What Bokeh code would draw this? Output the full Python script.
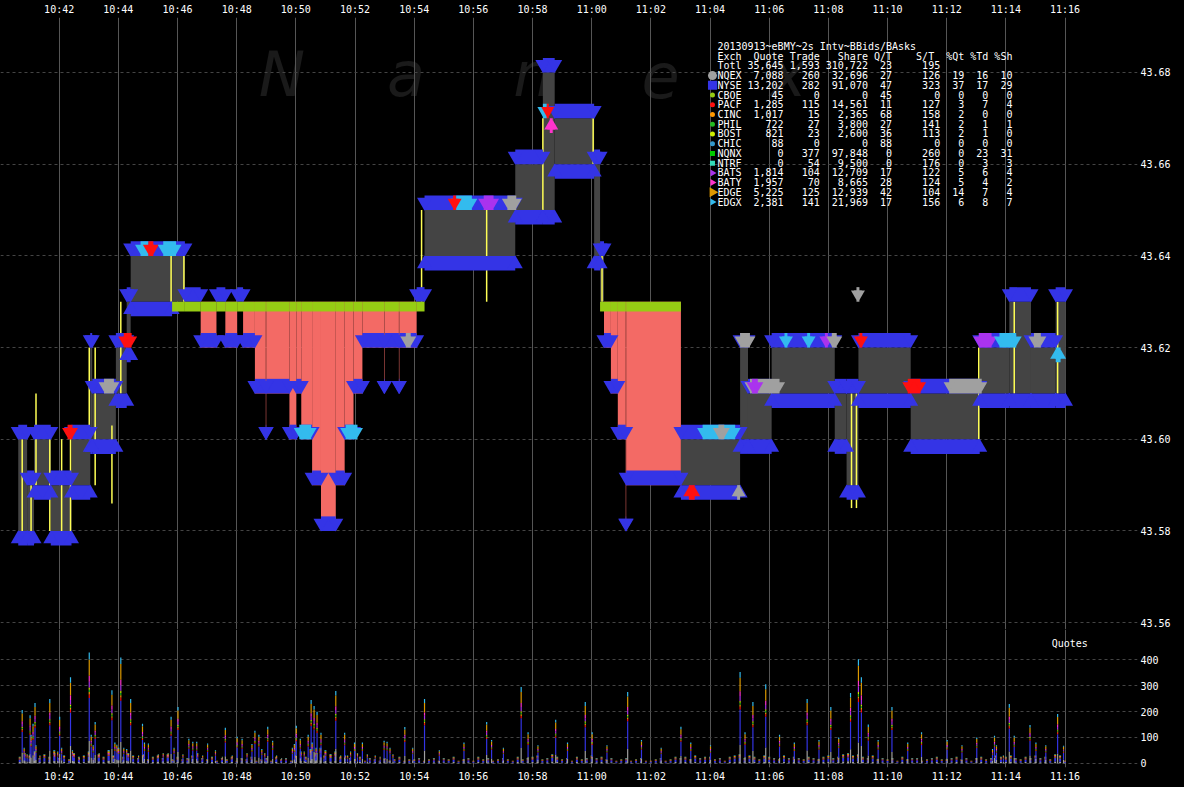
import math
from bokeh.plotting import figure
from bokeh.layouts import column
from bokeh.models import Range1d, FixedTicker, Label, ColumnDataSource, PrintfTickFormatter
from bokeh.core.properties import value
from bokeh.embed import file_html
from bokeh.resources import INLINE

# ---------------- data ----------------
tick_labels = ["10:42", "10:44", "10:46", "10:48", "10:50", "10:52", "10:54", "10:56", "10:58",
               "11:00", "11:02", "11:04", "11:06", "11:08", "11:10", "11:12", "11:14", "11:16"]
price_ticks = [43.56, 43.58, 43.60, 43.62, 43.64, 43.66, 43.68]
quote_ticks = [0, 100, 200, 300, 400]

# NBBO segments (each lasts until the next one starts)
seg_start = ["10:40:37", "10:40:55", "10:41:09", "10:41:43", "10:42:25", "10:43:03", "10:43:07",
             "10:43:55", "10:44:17", "10:44:25", "10:45:49", "10:46:15", "10:46:47", "10:47:19",
             "10:47:37", "10:48:01", "10:48:13", "10:48:37", "10:48:59", "10:49:00", "10:49:47",
             "10:50:01", "10:50:11", "10:50:33", "10:50:51", "10:51:21", "10:51:39", "10:51:57",
             "10:52:15", "10:52:59", "10:53:00", "10:53:29", "10:53:30", "10:54:05", "10:54:21",
             "10:57:25", "10:58:21", "10:58:45", "11:00:05", "11:00:17", "11:00:25", "11:00:39",
             "11:00:53", "11:01:09", "11:01:10", "11:03:01", "11:05:01", "11:05:17", "11:06:05",
             "11:08:13", "11:08:37", "11:09:01", "11:10:47", "11:13:07", "11:14:07", "11:14:51",
             "11:15:41"]
nbbo_end = "11:16:01"
seg_bid = [43.58, 43.58, 43.59, 43.58, 43.59, 43.60, 43.60, 43.61, 43.62, 43.63,
           43.63, 43.63, 43.63, 43.63, 43.63, 43.63, 43.63, 43.63, 43.63, 43.63,
           43.63, 43.63, 43.63, 43.63, 43.63, 43.63, 43.63, 43.63, 43.63, 43.63,
           43.63, 43.63, 43.63, 43.63, 43.64, 43.65, 43.65, 43.66, 43.64, 43.63,
           43.63, 43.63, 43.63, 43.63, 43.63, 43.59, 43.60, 43.60, 43.61, 43.60,
           43.59, 43.61, 43.60, 43.61, 43.61, 43.61, 43.61]
seg_ask = [43.60, 43.59, 43.60, 43.59, 43.60, 43.62, 43.61, 43.62, 43.63, 43.64,
           43.64, 43.63, 43.62, 43.63, 43.62, 43.63, 43.62, 43.61, 43.60, 43.61,
           43.60, 43.61, 43.60, 43.59, 43.58, 43.59, 43.60, 43.61, 43.62, 43.61,
           43.62, 43.61, 43.62, 43.63, 43.65, 43.66, 43.68, 43.67, 43.66, 43.64,
           43.62, 43.61, 43.60, 43.58, 43.59, 43.60, 43.62, 43.61, 43.62, 43.61,
           43.61, 43.62, 43.61, 43.62, 43.63, 43.62, 43.63]
seg_bid_ex = (["NYSE"] * 10 + ["CBOE"] * 24 + ["NYSE"] * 5 + ["CBOE"] * 6 + ["NYSE"] * 12)

# other exchanges' quotes that show inside the quote bands
xq_start = ["10:43:31", "10:44:11", "10:44:45", "10:45:01", "10:45:31", "10:42:17", "10:50:07",
            "10:51:41", "10:53:43", "10:55:25", "10:56:21", "10:57:09", "10:55:19", "10:58:21",
            "10:58:29", "10:58:35", "11:03:45", "11:04:17", "11:03:17", "11:04:55", "11:05:01",
            "11:05:21", "11:05:25", "11:06:31", "11:07:17", "11:07:53", "11:08:07", "11:08:57",
            "11:09:03", "11:10:41", "11:12:05", "11:13:05", "11:13:47", "11:14:57", "11:15:41"]
xq_end = ["10:43:51", "10:44:27", "10:45:01", "10:45:11", "10:45:57", "10:42:27", "10:50:31",
          "10:52:05", "10:53:53", "10:55:57", "10:56:41", "10:57:27", "10:55:25", "10:58:29",
          "10:58:33", "10:58:41", "11:04:51", "11:04:29", "11:03:29", "11:05:01", "11:05:21",
          "11:06:21", "11:05:37", "11:06:37", "11:07:23", "11:07:59", "11:08:17", "11:09:03",
          "11:09:09", "11:11:07", "11:13:11", "11:13:31", "11:14:21", "11:15:11", "11:15:51"]
xq_side = ["ask", "ask", "ask", "ask", "ask", "ask", "ask", "ask", "ask", "ask", "ask", "ask",
           "ask", "ask", "ask", "bid", "ask", "ask", "bid", "bid", "ask", "ask", "ask", "ask",
           "ask", "ask", "ask", "ask", "ask", "ask", "ask", "ask", "ask", "ask", "bid"]
xq_price = [43.61, 43.62, 43.64, 43.64, 43.64, 43.60, 43.60, 43.60, 43.62, 43.65, 43.65, 43.65,
            43.65, 43.67, 43.67, 43.67, 43.60, 43.60, 43.59, 43.59, 43.62, 43.61, 43.61, 43.62,
            43.62, 43.62, 43.62, 43.63, 43.62, 43.61, 43.61, 43.62, 43.62, 43.62, 43.62]
xq_exch = ["NQEX", "PACF", "EDGX", "PACF", "EDGX", "PACF", "EDGX", "EDGX", "NQEX", "EDGX",
           "BATS", "NQEX", "PACF", "EDGX", "PACF", "BATY", "EDGX", "NQEX", "PACF", "NQEX",
           "NQEX", "NQEX", "BATS", "EDGX", "EDGX", "BATS", "NQEX", "NQEX", "PACF", "PACF",
           "NQEX", "BATS", "EDGX", "NQEX", "EDGX"]

# trades (vertical yellow lines)
trade_time = ["10:40:45", "10:41:03", "10:41:13", "10:41:41", "10:42:05", "10:42:23", "10:43:01",
              "10:43:13", "10:43:47", "10:44:05", "10:45:47", "10:46:13", "10:54:15", "10:56:27",
              "10:58:21", "11:00:03", "11:00:21", "11:08:47", "11:08:57", "11:13:05", "11:14:17",
              "11:15:45"]
trade_lo = [43.58, 43.58, 43.59, 43.58, 43.58, 43.58, 43.60, 43.59, 43.586, 43.61, 43.63, 43.63,
            43.63, 43.63, 43.65, 43.66, 43.63, 43.585, 43.585, 43.60, 43.61, 43.61]
trade_hi = [43.60, 43.59, 43.61, 43.60, 43.60, 43.60, 43.62, 43.62, 43.603, 43.63, 43.64, 43.64,
            43.65, 43.65, 43.67, 43.67, 43.64, 43.61, 43.61, 43.62, 43.63, 43.63]

# quotes per 2s interval: spikes (seconds after 10:40:00) and background (every 10 s from 10:40:40)
spike_sec = [45, 61, 67, 71, 101, 121, 143, 181, 193, 227, 237, 245, 265, 289, 301, 347, 361,
             383, 391, 399, 421, 457, 481, 491, 517, 525, 543, 553, 601, 609, 631, 637, 643,
             651, 681, 699, 719, 735, 779, 785,
             49, 55, 63, 73, 81, 111, 117, 125, 147, 161, 185, 189, 201, 221, 233, 251, 257,
             281, 293, 321, 331, 341, 353, 371, 401, 411, 437, 451, 471, 501, 511, 531, 537,
             561, 571, 593, 597, 617, 625, 633, 641, 657, 671, 691, 705, 711, 725, 745, 761,
             771, 791, 797,
             821, 837, 861, 891, 941, 987, 997, 1021, 1057, 1071, 1091, 1127, 1151, 1187, 1201,
             1231, 1273, 1301, 1341, 1381, 1401, 1441, 1501, 1511, 1527, 1553, 1581, 1611, 1637,
             1661, 1685, 1701, 1725, 1741, 1747, 1761, 1781, 1809, 1841, 1869, 1921, 1951, 1981,
             2013, 2017, 2021, 2035, 2047, 2057, 2089, 2101, 2121, 2145, 2157]
spike_total = [206, 186, 153, 233, 249, 180, 333, 429, 160, 283, 72, 410, 249, 153, 76, 180, 218,
               95, 83, 83, 76, 137, 103, 95, 126, 110, 141, 87, 145, 95, 245, 222, 199,
               118, 280, 118, 80, 80, 87, 83,
               60, 35, 110, 70, 30, 40, 45, 60, 50, 20, 110, 70, 40, 50, 80, 60, 55,
               30, 80, 35, 40, 40, 60, 35, 40, 30, 50, 25, 30, 40, 75, 55, 40,
               30, 20, 60, 75, 45, 110, 80, 60, 30, 35, 30, 30, 45, 40, 35, 30,
               25, 60, 35,
               140, 60, 249, 50, 80, 160, 90, 60, 295, 120, 70, 168, 80, 237, 120,
               70, 276, 90, 60, 141, 80, 70, 353, 120, 237, 306, 110, 80, 249,
               90, 218, 100, 272, 403, 333, 150, 90, 218, 80, 120, 90, 70, 100,
               55, 106, 70, 30, 229, 106, 148, 80, 70, 191, 68]
bg_start = "10:40:40"
bg_total = [25, 40,
            30, 45, 20, 35, 25, 50,
            20, 30, 15, 40, 25, 30,
            45, 20, 35, 25, 50, 30,
            60, 25, 40, 30, 20, 35,
            15, 25, 30, 20, 35, 15,
            25, 15, 20, 30, 10, 20,
            15, 25, 10, 20, 15, 25,
            10, 20, 15, 25, 10, 15,
            20, 10, 25, 15, 20, 10,
            30, 45, 25, 55, 40, 60,
            50, 35, 45, 25, 30, 20,
            15, 25, 10, 20, 15, 10,
            20, 10, 15, 25, 10, 15,
            15, 20, 10, 15, 20, 10,
            20, 15, 25, 10, 15, 20,
            10, 25, 15, 20, 10, 15,
            20, 15, 10, 25, 15, 20,
            25, 30, 15, 20, 35, 25,
            15, 20, 10, 25, 15, 20,
            30, 20, 25, 15, 20, 10,
            15, 20, 10, 15, 20, 10,
            10, 15, 20, 10, 15, 25,
            20, 25, 15, 30, 20, 25,
            25, 15, 20, 10, 25, 30,
            35, 20, 30, 25, 15, 30,
            25, 20, 15, 30, 20, 25,
            20, 15, 25, 20, 15, 25,
            30, 20, 25, 35, 40, 30,
            35, 25, 20, 30, 15, 20,
            15, 20, 10, 25, 15, 20,
            20, 10, 15, 20, 25, 15,
            15, 20, 25, 15, 20, 10,
            20, 25, 15, 20, 30, 25,
            25, 30, 20, 15, 25, 20,
            30, 20, 25, 15, 35, 30,
            10]

# summary table
table_title = "20130913~eBMY~2s Intv~BBids/BAsks"
ex_names = ["NQEX", "NYSE", "CBOE", "PACF", "CINC", "PHIL", "BOST", "CHIC", "NQNX", "NTRF",
            "BATS", "BATY", "EDGE", "EDGX"]
ex_quote = [7088, 13202, 45, 1285, 1017, 722, 821, 88, 0, 0, 1814, 1957, 5225, 2381]
ex_trade = [260, 282, 0, 115, 15, 27, 23, 0, 377, 54, 104, 70, 125, 141]
ex_share = [32696, 91070, 0, 14561, 2365, 3800, 2600, 0, 97848, 9500, 12709, 8665, 12939, 21969]
ex_qt = [27, 47, 45, 11, 68, 27, 36, 88, 0, 0, 17, 28, 42, 17]
ex_st = [126, 323, 0, 127, 158, 141, 113, 0, 260, 176, 122, 124, 104, 156]
ex_pct_q = [19, 37, 0, 3, 2, 2, 2, 0, 0, 0, 5, 5, 14, 6]
ex_pct_t = [16, 17, 0, 7, 0, 1, 1, 0, 23, 3, 6, 4, 7, 8]
ex_pct_s = [10, 29, 0, 4, 0, 1, 0, 0, 31, 3, 4, 2, 4, 7]
total_row = ["Totl", 35645, 1593, 310722, 23, 195]

# ---------------- styling ----------------
EX_COLOR = {"NQEX": "#a0a0a0", "NYSE": "#3434e6", "CBOE": "#96cc14", "PACF": "#ff1010",
            "CINC": "#ff9900", "PHIL": "#22bb22", "BOST": "#ccee00", "CHIC": "#3399cc",
            "NQNX": "#00cc00", "NTRF": "#33ddbb", "BATS": "#aa33ee", "BATY": "#ff33cc",
            "EDGE": "#dd9900", "EDGX": "#33bbee"}
EX_MARK = {"NQEX": ("circle", 9), "NYSE": ("square", 9), "CBOE": ("circle", 5), "PACF": ("circle", 5),
           "CINC": ("circle", 5), "PHIL": ("circle", 5), "BOST": ("circle", 5), "CHIC": ("circle", 5),
           "NQNX": ("square", 5), "NTRF": ("square", 5), "BATS": ("tri", 7), "BATY": ("tri", 7),
           "EDGE": ("tri", 10), "EDGX": ("tri", 7)}
GRAY_FILL = "#444444"
SALMON = "#f36a65"
YELLOW = "#ffff55"
MONO = "DejaVu Sans Mono"
NBSP = "\u00a0"


def tmin(s):
    parts = [int(v) for v in s.split(":")]
    sec = parts[2] if len(parts) > 2 else 0
    return (parts[0] - 10) * 60 + parts[1] + sec / 60.0


# reference-pixel helpers (for annotation placement only)
def ref_t(x):
    return 42 + (x - 59.5) / 30.0


def ref_p(y):
    return 43.68 - (y - 69.5) / 4712.5


tick_vals = [int(round(tmin(s))) for s in tick_labels]
overrides = {v: s for v, s in zip(tick_vals, tick_labels)}
x_range = Range1d(ref_t(0), ref_t(1153))

FW = 1137


def style_axis(ax):
    ax.axis_line_color = None
    ax.major_tick_line_color = None
    ax.minor_tick_line_color = None
    ax.major_tick_out = 0
    ax.major_tick_in = 0
    ax.major_label_text_color = "#ffffff"
    ax.major_label_text_font = MONO
    ax.major_label_text_font_size = "10px"
    ax.major_label_standoff = 3


# ---------------- price panel ----------------
p = figure(frame_width=FW, frame_height=612, x_range=x_range,
           y_range=Range1d(ref_p(642), ref_p(13)),
           x_axis_location="above", y_axis_location="right",
           toolbar_location=None, output_backend="svg",
           background_fill_color="black", border_fill_color="black",
           outline_line_color=None, min_border_left=0, min_border_right=47,
           min_border_top=14, min_border_bottom=0)
p.xaxis.ticker = FixedTicker(ticks=tick_vals)
p.xaxis.major_label_overrides = overrides
p.yaxis.ticker = FixedTicker(ticks=price_ticks)
p.yaxis.formatter = PrintfTickFormatter(format="%.2f")
for ax in [p.xaxis[0], p.yaxis[0]]:
    style_axis(ax)
p.xgrid.ticker = FixedTicker(ticks=tick_vals)
p.xgrid.grid_line_color = "#555555"
p.ygrid.ticker = FixedTicker(ticks=price_ticks)
p.ygrid.grid_line_color = "#444444"
p.ygrid.grid_line_dash = "3 3"

# watermark
for letter, xr in zip(["N", "a", "n", "e", "x"], [262, 392, 520, 650, 780]):
    p.text(x=[ref_t(xr)], y=[ref_p(72)], text=[letter], text_font=value("DejaVu Sans"),
           text_font_style="italic", text_font_size="62px", text_color="#1a1a1a",
           text_baseline="alphabetic", level="image")

# NBBO fill
starts = [tmin(s) for s in seg_start]
ends = starts[1:] + [tmin(nbbo_end)]
fl, fr, fb, ft, fc = [], [], [], [], []
for s, e, b, a in zip(starts, ends, seg_bid, seg_ask):
    if abs(a - b) < 1e-9:
        continue
    fl.append(s); fr.append(e)
    fb.append(min(a, b)); ft.append(max(a, b))
    fc.append(GRAY_FILL if a > b else SALMON)
p.quad(left=fl, right=fr, bottom=fb, top=ft, fill_color=fc, line_color=None)

# trades
tt = [tmin(s) for s in trade_time]
p.segment(x0=tt, y0=trade_lo, x1=tt, y1=trade_hi, line_color=YELLOW, line_width=1.5)

H = 15 / 4712.5
HC = 10 / 4712.5


def band(left, right, price, side, color, size):
    if side == "ask":
        p.quad(left=left, right=right, bottom=price, top=[v + H for v in price],
               fill_color=color, line_color=None)
        ys = [v + H * 0.55 for v in price]
        p.scatter(x=left + right, y=ys + ys, marker="inverted_triangle", size=size,
                  fill_color=color, line_color=None)
    else:
        p.quad(left=left, right=right, bottom=[v - H for v in price], top=price,
               fill_color=color, line_color=None)
        ys = [v - H * 0.55 for v in price]
        p.scatter(x=left + right, y=ys + ys, marker="triangle", size=size,
                  fill_color=color, line_color=None)


blue = EX_COLOR["NYSE"]
band(starts, ends, seg_ask, "ask", blue, 15)
nb = [i for i, ex in enumerate(seg_bid_ex) if ex == "NYSE"]
band([starts[i] for i in nb], [ends[i] for i in nb], [seg_bid[i] for i in nb], "bid", blue, 15)
cb = [i for i, ex in enumerate(seg_bid_ex) if ex == "CBOE"]
p.quad(left=[starts[i] for i in cb], right=[ends[i] for i in cb],
       bottom=[seg_bid[i] - HC for i in cb], top=[seg_bid[i] for i in cb],
       fill_color=EX_COLOR["CBOE"], line_color=None)

for s, e, sd, pr, ex in zip(xq_start, xq_end, xq_side, xq_price, xq_exch):
    band([tmin(s)], [tmin(e)], [pr], sd, EX_COLOR[ex], 11)

# summary table
rows = [table_title.replace(" ", NBSP)]
hdr = f"{'Exch':<4}{'Quote':>7}{'Trade':>6}{'Share':>8}{'Q/T':>4}{'S/T':>7}{'%Qt':>5}{'%Td':>4}{'%Sh':>4}"
rows.append(hdr.replace(" ", NBSP))
tot = f"{total_row[0]:<4}{total_row[1]:>7,}{total_row[2]:>6,}{total_row[3]:>8,}{total_row[4]:>4}{total_row[5]:>8}"
rows.append(tot.replace(" ", NBSP))
for i, nm in enumerate(ex_names):
    r = (f"{nm:<4}{ex_quote[i]:>7,}{ex_trade[i]:>6,}{ex_share[i]:>8,}{ex_qt[i]:>4}"
         f"{ex_st[i]:>8}{ex_pct_q[i]:>4}{ex_pct_t[i]:>4}{ex_pct_s[i]:>4}")
    rows.append(r.replace(" ", NBSP))
ry = [ref_p(42.7 + 10 * k) for k in range(len(rows))]
p.text(x=[ref_t(727)] * len(rows), y=ry, text=rows, text_font=value(MONO),
       text_font_size="10px", text_color="#ffffff", text_baseline="middle", text_align="left")
for i, nm in enumerate(ex_names):
    mk, sz = EX_MARK[nm]
    y = ref_p(72.7 + 10 * i)
    if mk == "tri":
        p.scatter(x=[ref_t(722)], y=[y], marker="triangle", angle=-math.pi / 2, size=sz,
                  fill_color=EX_COLOR[nm], line_color=None)
    else:
        p.scatter(x=[ref_t(722)], y=[y], marker=mk, size=sz, fill_color=EX_COLOR[nm], line_color=None)

# ---------------- quotes panel ----------------
q = figure(frame_width=FW, frame_height=138, x_range=x_range, y_range=Range1d(-16.5, 518),
           x_axis_location="below", y_axis_location="right",
           toolbar_location=None, output_backend="svg",
           background_fill_color="black", border_fill_color="black",
           outline_line_color=None, min_border_left=0, min_border_right=47,
           min_border_top=0, min_border_bottom=20)
q.xaxis.ticker = FixedTicker(ticks=tick_vals)
q.xaxis.major_label_overrides = overrides
q.yaxis.ticker = FixedTicker(ticks=quote_ticks)
for ax in [q.xaxis[0], q.yaxis[0]]:
    style_axis(ax)
q.xgrid.ticker = FixedTicker(ticks=tick_vals)
q.xgrid.grid_line_color = "#555555"
q.ygrid.ticker = FixedTicker(ticks=quote_ticks)
q.ygrid.grid_line_color = "#444444"
q.ygrid.grid_line_dash = "3 3"

share_sum = float(sum(ex_pct_q))
stack_ex = [nm for nm, s in zip(ex_names, ex_pct_q) if s > 0]


def stack_source(xs, totals):
    d = {"x": xs}
    for nm, s in zip(ex_names, ex_pct_q):
        if s > 0:
            d[nm] = [t * s / share_sum for t in totals]
    return ColumnDataSource(d)


bg_x = [tmin(bg_start) + 10 * k / 60.0 for k in range(len(bg_total))]
q.vbar_stack(stack_ex, x="x", width=4 / 60.0, source=stack_source(bg_x, bg_total),
             fill_color=[EX_COLOR[nm] for nm in stack_ex], line_color=None)
sp_x = [40 + s / 60.0 for s in spike_sec]
q.vbar_stack(stack_ex, x="x", width=2.4 / 60.0, source=stack_source(sp_x, spike_total),
             fill_color=[EX_COLOR[nm] for nm in stack_ex], line_color=None)

q.add_layout(Label(x=ref_t(1066), y=462, text="Quotes", text_color="#ffffff",
                   text_font=MONO, text_font_size="10px", text_baseline="middle"))

layout = column(p, q, spacing=0, styles={"background-color": "#000000"})
open("out.html", "w").write(file_html(layout, INLINE))
